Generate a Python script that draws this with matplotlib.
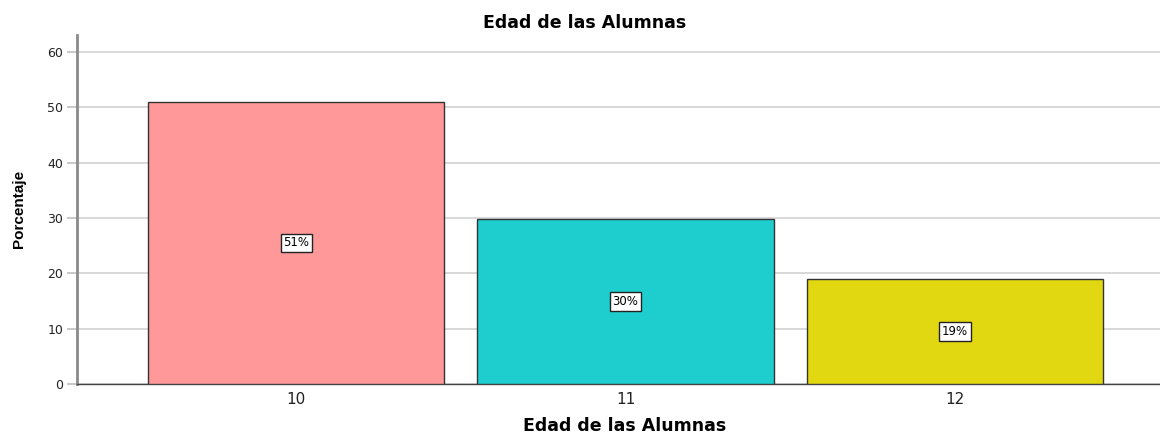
import matplotlib
matplotlib.use('Agg')
import matplotlib.pyplot as plt

# data
edades = ['10', '11', '12']
porcentajes = [51.0, 29.8, 19.0]
etiquetas = ['51%', '30%', '19%']
colores = ['#FF9999', '#1ECECE', '#E1D811']

fig = plt.figure(figsize=(11.6, 4.33), dpi=100)
ax = fig.add_axes([77/1160, 49/433, 1 - 77/1160, (384-35)/433])

x = list(range(len(edades)))
bars = ax.bar(x, porcentajes, width=0.9, color=colores, edgecolor='#333333',
              linewidth=1.0, zorder=3)

for xi, v, lab in zip(x, porcentajes, etiquetas):
    ax.text(xi, v / 2, lab, ha='center', va='center', fontsize=8.5, zorder=4,
            bbox=dict(boxstyle='square,pad=0.22', facecolor='white',
                      edgecolor='#222222', linewidth=1.0))

ax.set_xlim(-0.665, 2.622)
ax.set_ylim(0, 63.1)
ax.set_yticks([0, 10, 20, 30, 40, 50, 60])
ax.set_xticks(x)
ax.set_xticklabels(edades, fontsize=11, color='#222222')
ax.tick_params(axis='y', labelsize=9, length=7, color='#c4c4c4', width=1.3,
               labelcolor='#222222', pad=3)
ax.tick_params(axis='x', length=0, pad=6)

ax.grid(axis='y', color='#d6d6d6', linewidth=1.3, zorder=0)
ax.set_axisbelow(True)
for s in ['top', 'right']:
    ax.spines[s].set_visible(False)
ax.spines['left'].set_color('#8a8a8a')
ax.spines['left'].set_linewidth(2.0)
ax.spines['bottom'].set_color('#444444')
ax.spines['bottom'].set_linewidth(1.0)

fig.text(585/1160, 1 - 23/433, 'Edad de las Alumnas', ha='center', va='center',
         fontsize=12.5, fontweight='bold')
fig.text(625/1160, 1 - 426/433, 'Edad de las Alumnas', ha='center', va='center',
         fontsize=12.5, fontweight='bold')
fig.text(19/1160, 1 - 209/433, 'Porcentaje', ha='center', va='center',
         rotation=90, fontsize=11, fontweight='bold',
         family=['Liberation Sans', 'DejaVu Sans'])

fig.savefig('out.png', dpi=100)
